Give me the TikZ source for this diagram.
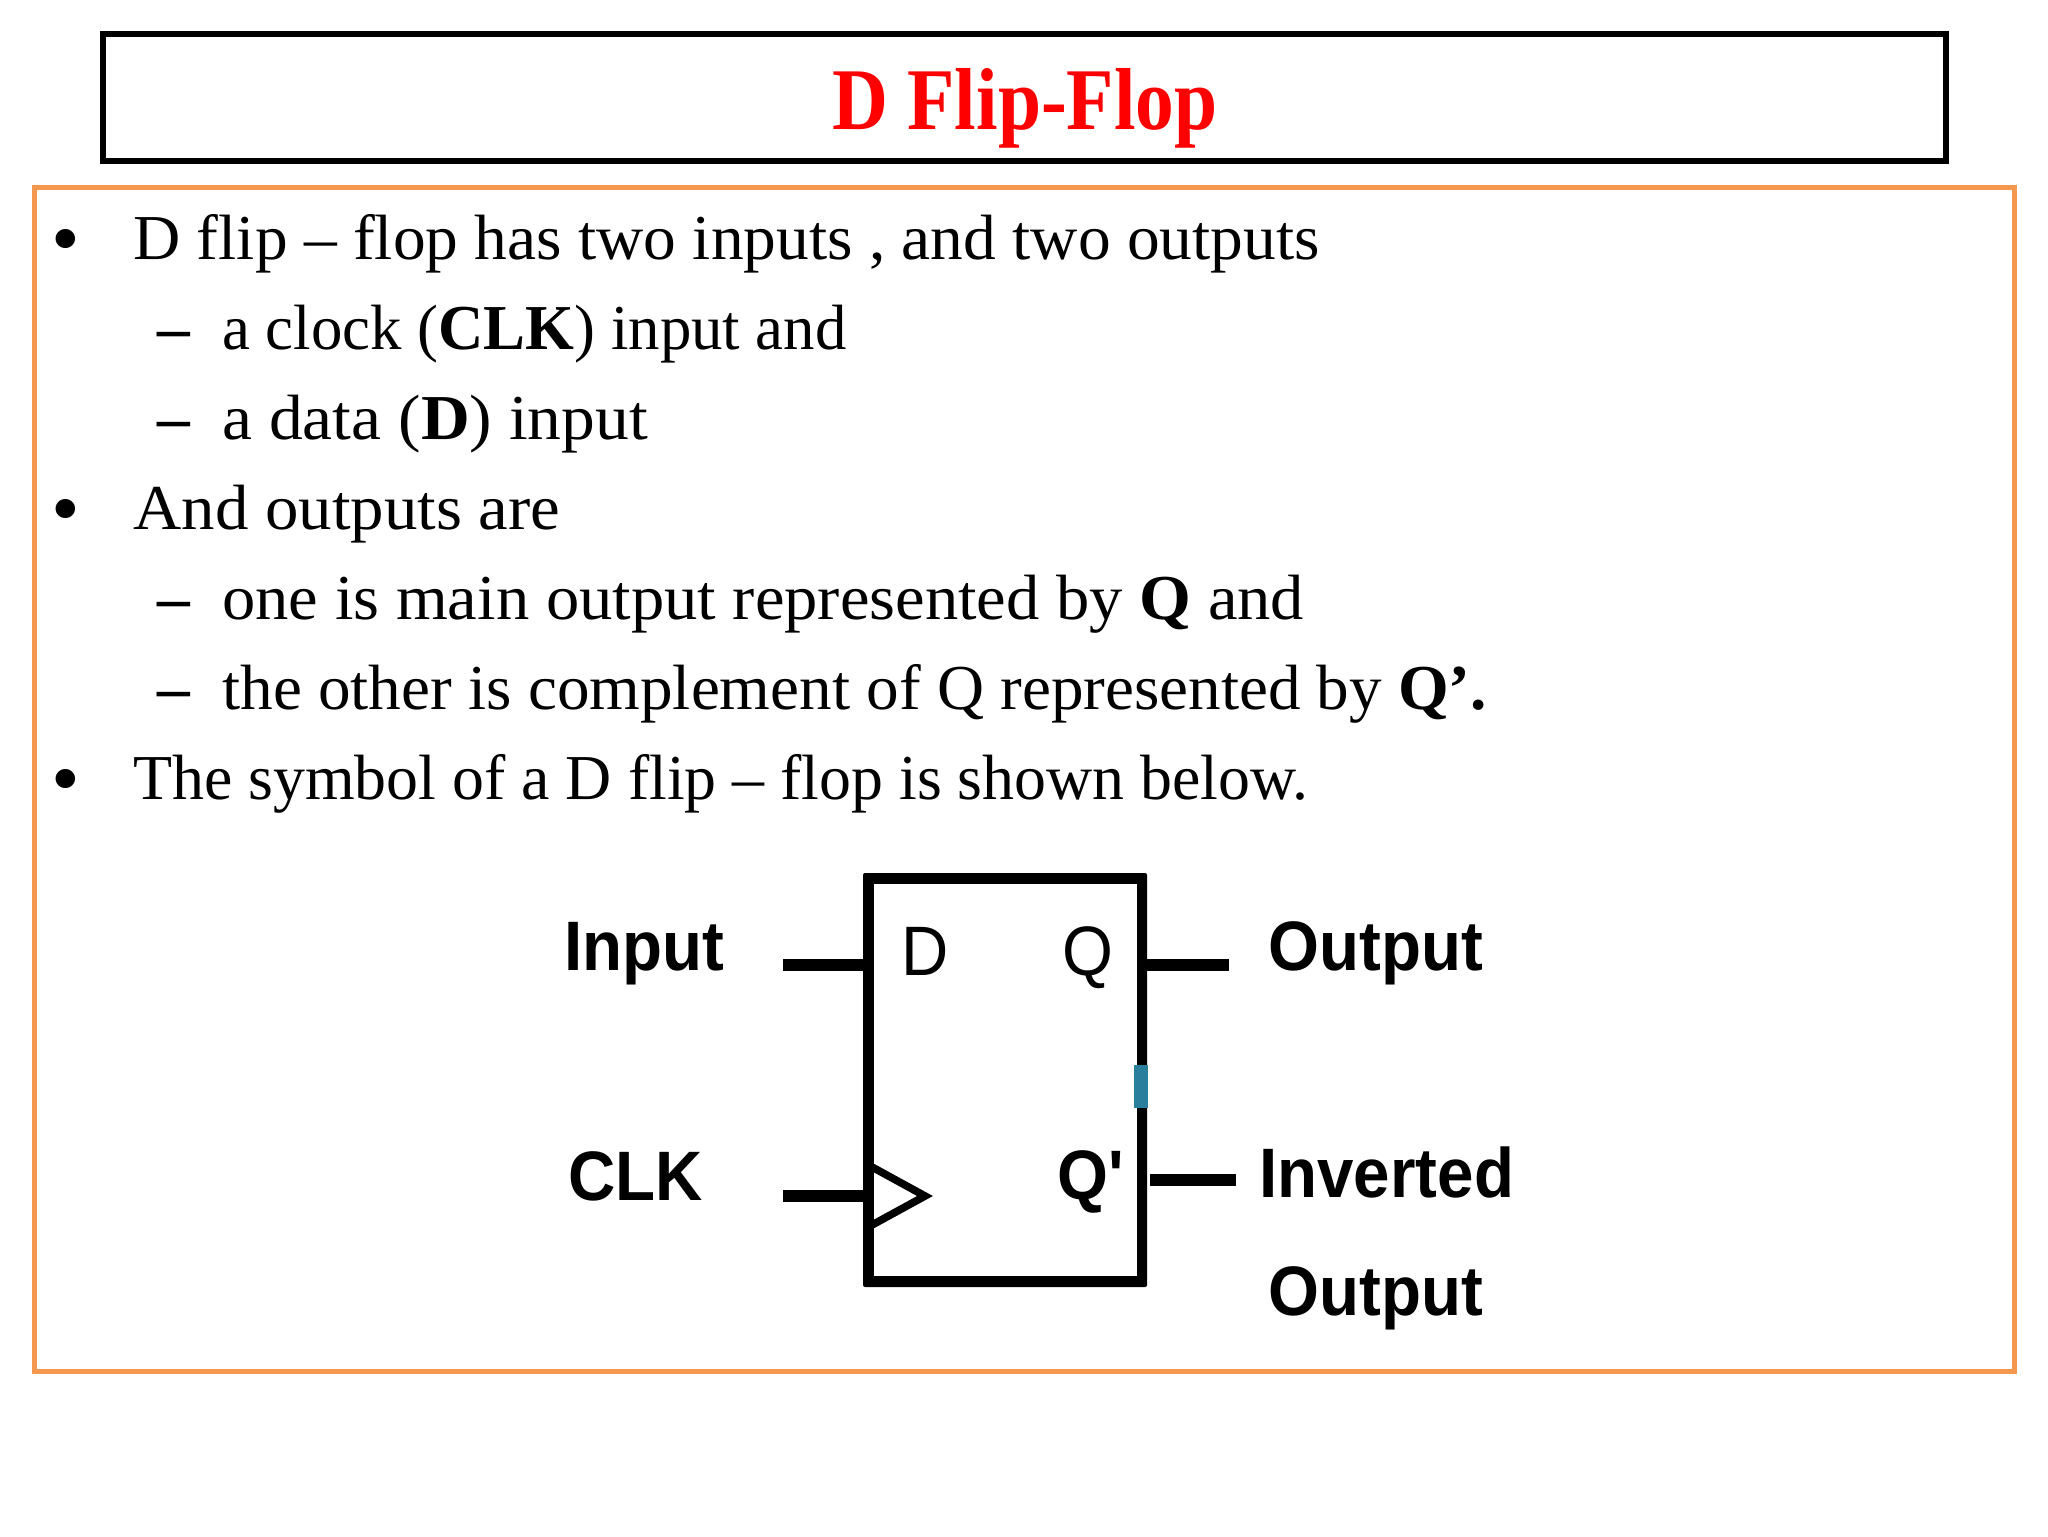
\documentclass[tikz,border=0pt]{standalone}
\usepackage{graphicx}
\usepackage{fontspec}
\setmainfont{Liberation Serif}[FakeStretch=1.022,BoldFont={Liberation Serif Bold}]
\newfontfamily\labelfont{Liberation Sans}[FakeStretch=0.935,BoldFont={Liberation Sans Bold}]
\newfontfamily\titlefont{Liberation Serif Bold}[FakeStretch=0.88]
\definecolor{framebox}{HTML}{F4984F}
\definecolor{titlered}{HTML}{FF0000}
\definecolor{markteal}{HTML}{2A7F9C}
\tikzset{
  body/.style={anchor=base west,inner sep=0pt,font=\fontsize{32}{38}\selectfont},
  bulletmark/.style={anchor=base,inner sep=0pt,font=\fontsize{40}{46}\selectfont},
  symlabel/.style={anchor=base west,inner sep=0pt,font=\labelfont\bfseries\fontsize{35}{40}\selectfont},
  pinlabel/.style={anchor=base west,inner sep=0pt,font=\labelfont\fontsize{35}{40}\selectfont},
  wire/.style={line width=6pt},
}
\begin{document}
\begin{tikzpicture}[x=0.5pt,y=-0.5pt]
\useasboundingbox[fill=white] (0,0) rectangle (2048,1536);
% frames
\node[draw=black,line width=3pt,minimum width=921.5pt,minimum height=63pt,inner sep=0pt] (titlebox) at (1024,97.5) {};
\node[draw=framebox,line width=2.5pt,minimum width=989.8pt,minimum height=592pt,inner sep=0pt] (frame) at (1024.3,779.5) {};
\node[anchor=base,inner sep=0pt,text=titlered,font=\titlefont\fontsize{44}{50}\selectfont] (title) at (1025,129) {D Flip-Flop};
% text lines
\node[bulletmark] (b1) at (66,265) {•};
\node[body] (t1) at (133,259) {D flip – flop has two inputs , and two outputs};
\node[body] (d2) at (157,349) {\textbf{–}};
\node[body] (t2) at (222,349) {\scalebox{0.960}[1]{a clock (\textbf{CLK}) input and}};
\node[body] (d3) at (157,439) {\textbf{–}};
\node[body] (t3) at (222,439) {\scalebox{1.032}[1]{a data (\textbf{D}) input}};
\node[bulletmark] (b4) at (66,535) {•};
\node[body] (t4) at (133,529) {\scalebox{1.022}[1]{And outputs are}};
\node[body] (d5) at (157,619) {\textbf{–}};
\node[body] (t5) at (222,619) {\scalebox{1.018}[1]{one is main output represented by \textbf{Q} and}};
\node[body] (d6) at (157,709) {\textbf{–}};
\node[body] (t6) at (222,709) {\scalebox{0.996}[1]{the other is complement of Q represented by \textbf{Q’.}}};
\node[bulletmark] (b7) at (66,805) {•};
\node[body] (t7) at (133,799) {\scalebox{0.976}[1]{The symbol of a D flip – flop is shown below.}};
% flip-flop body
\node[fill=black,minimum width=142pt,minimum height=207pt,inner sep=0pt,rounded corners=1pt] (ff) at (1005,1080) {};
\node[fill=white,minimum width=131.5pt,minimum height=196pt,inner sep=0pt] (ffin) at (1005.5,1080) {};
\node[fill=markteal,minimum width=7pt,minimum height=21.5pt,inner sep=0pt] (mark) at (1141,1086.5) {};
% wires
\coordinate (inEnd) at (783,965);
\coordinate (clkEnd) at (783,1196);
\coordinate (qEnd) at (1229,965);
\coordinate (qbStart) at (1150,1180);
\coordinate (qbEnd) at (1236,1180);
\draw[line width=6pt] (inEnd) -- (inEnd -| ff.west);
\draw[wire] (clkEnd) -- (clkEnd -| ff.west);
\draw[line width=6pt] (qEnd) -- (qEnd -| ff.east);
\draw[wire] (qbStart) -- (qbEnd);
% clock triangle
\coordinate (ckTop) at (872,1167);
\coordinate (ckTip) at (925,1196);
\coordinate (ckBot) at (872,1225);
\draw[line width=3.8pt,miter limit=4] (ckTop) -- (ckTip) -- (ckBot);
% labels
\node[symlabel] (lInput) at (564,970) {Input};
\node[symlabel] (lCLK) at (568,1200) {CLK};
\node[symlabel] (lOut) at (1268,970) {Output};
\node[symlabel] (lInv) at (1259,1197) {Inverted};
\node[symlabel] (lOut2) at (1268,1315) {Output};
\node[pinlabel] (pD) at (901,975) {D};
\node[pinlabel] (pQ) at (1062,975) {Q};
\node[symlabel] (pQb) at (1057,1199) {Q'};
\end{tikzpicture}
\end{document}
